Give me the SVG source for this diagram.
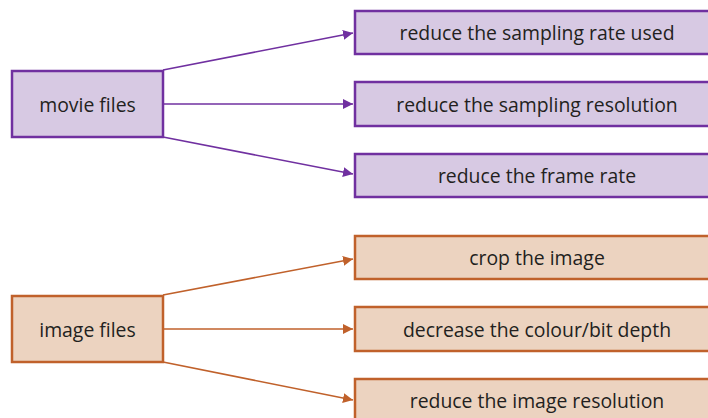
<svg xmlns="http://www.w3.org/2000/svg" width="708" height="418" viewBox="0 0 708 418">
<style>
.p rect{fill:#d7c9e3;stroke:#7030a0;stroke-width:2.5}
.o rect{fill:#ecd3c0;stroke:#c0612b;stroke-width:2.5}
text{font-family:"Open Sans","Noto Sans",sans-serif;font-size:19.4px;fill:#231f20;text-anchor:middle;dominant-baseline:central}
.cp line{stroke:#7030a0;stroke-width:1.6;marker-end:url(#ap)}
.co line{stroke:#c0612b;stroke-width:1.6;marker-end:url(#ao)}
</style>
<defs>
<marker id="ap" viewBox="0 0 10 10" refX="10" refY="5" markerWidth="10" markerHeight="10" markerUnits="userSpaceOnUse" orient="auto"><path d="M0,0L10,5L0,10z" fill="#7030a0"/></marker>
<marker id="ao" viewBox="0 0 10 10" refX="10" refY="5" markerWidth="10" markerHeight="10" markerUnits="userSpaceOnUse" orient="auto"><path d="M0,0L10,5L0,10z" fill="#c0612b"/></marker>
</defs>
<rect width="708" height="418" fill="#fff"/>
<g id="connectors">
<g class="cp">
<line x1="163" y1="70" x2="353" y2="33"/>
<line x1="163" y1="104" x2="353" y2="104"/>
<line x1="163" y1="137" x2="353" y2="174"/>
</g>
<g class="co">
<line x1="163" y1="295" x2="353" y2="259"/>
<line x1="163" y1="329" x2="353" y2="329"/>
<line x1="163" y1="362" x2="353" y2="400"/>
</g>
</g>
<g id="movie" class="p"><rect x="12" y="71" width="151" height="66"/><text x="87.5" y="104">movie files</text></g>
<g id="m1" class="p"><rect x="355" y="11" width="366" height="43"/><text x="537" y="32.5">reduce the sampling rate used</text></g>
<g id="m2" class="p"><rect x="355" y="82" width="366" height="44"/><text x="537" y="104">reduce the sampling resolution</text></g>
<g id="m3" class="p"><rect x="355" y="154" width="366" height="43"/><text x="537" y="175.5">reduce the frame rate</text></g>
<g id="image" class="o"><rect x="12" y="296" width="151" height="66"/><text x="87.5" y="329">image files</text></g>
<g id="i1" class="o"><rect x="355" y="236" width="366" height="43"/><text x="537" y="257.5">crop the image</text></g>
<g id="i2" class="o"><rect x="355" y="307" width="366" height="44"/><text x="537" y="329">decrease the colour/bit depth</text></g>
<g id="i3" class="o"><rect x="355" y="379" width="366" height="45"/><text x="537" y="400">reduce the image resolution</text></g>
</svg>
